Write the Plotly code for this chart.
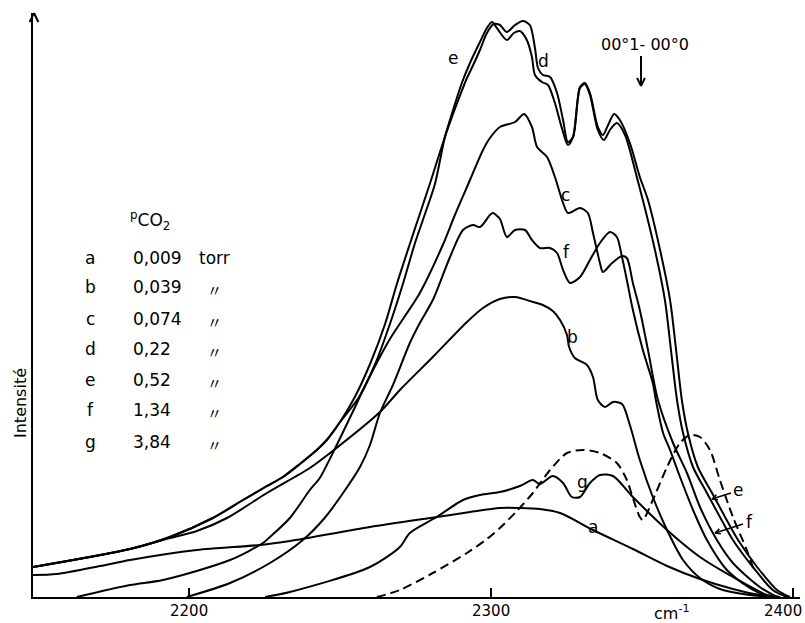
import plotly.graph_objects as go
import math

# ---------------- data (wavenumber cm-1, intensity in arbitrary units) ----------------
base_wn = [2148.4, 2180.5, 2193.7, 2207.9, 2217.9, 2225.8, 2231.1, 2236.7, 2242.3, 2245.6, 2250.0]
base_int = [30, 48, 60, 79, 97, 111, 120, 133, 147, 157, 175]

a_wn = [2148.4, 2156.3, 2170.6, 2180.5, 2202.6, 2223.5, 2233.4, 2259.9, 2282.0, 2293.0, 2302.9,
        2309.5, 2316.1, 2322.8, 2333.7, 2346.9, 2358.2, 2369.1, 2380.0, 2388.9, 2395.6]
a_int = [22, 23, 31, 37, 47, 52, 56, 70, 80, 85, 89, 89, 88, 84, 67, 48, 31, 18, 8, 2, 0]

b_wn = [2148.4, 2180.5, 2193.7, 2202.6, 2212.6, 2225.8, 2240.0, 2246.7, 2263.2, 2269.8, 2280.7,
        2292.0, 2297.3, 2302.9, 2307.9, 2313.8, 2317.1, 2320.4, 2322.8, 2325.1, 2325.8, 2327.7,
        2331.7, 2333.7, 2335.3, 2337.7, 2340.3, 2343.3, 2345.9, 2349.2, 2353.5, 2358.2, 2363.5,
        2369.1, 2375.7, 2385.6, 2393.9]
b_int = [30, 48, 59, 66, 79, 104, 129, 144, 185, 207, 240, 275, 289, 298, 300, 295, 292, 286,
         277, 262, 250, 239, 232, 220, 197, 190, 195, 193, 172, 137, 100, 67, 37, 19, 8, 2, 0]

c_wn = [2162.9, 2180.5, 2191.4, 2213.6, 2224.5, 2226.8, 2233.4, 2240.0, 2243.3, 2247.6, 2255.6,
        2258.9, 2266.5, 2276.4, 2284.0, 2288.0, 2293.0, 2297.3, 2299.6, 2302.9, 2307.9, 2310.9,
        2313.5, 2315.2, 2318.5, 2321.1, 2323.8, 2325.4, 2329.4, 2332.0, 2333.7, 2336.0, 2337.0,
        2340.0, 2343.3, 2344.9, 2346.9, 2349.2, 2351.9, 2355.2, 2360.2, 2364.8, 2369.1, 2374.7,
        2380.0, 2388.9, 2394.6]
c_int = [0, 12, 17, 37, 54, 60, 79, 107, 119, 144, 194, 215, 258, 304, 352, 382, 417, 447, 459,
         470, 475, 483, 470, 450, 440, 420, 394, 384, 389, 384, 364, 334, 325, 334, 341, 339, 314,
         287, 247, 197, 154, 124, 90, 57, 34, 10, 0]

d_wn = base_wn + [2254.9, 2260.2, 2264.9, 2268.8, 2273.1, 2276.4, 2279.7, 2284.7, 2289.0, 2292.0,
                  2293.6, 2296.3, 2298.6, 2300.9, 2302.9, 2305.2, 2307.9, 2310.5, 2312.8, 2314.5,
                  2315.5, 2317.1, 2319.5, 2321.8, 2323.8, 2325.4, 2327.1, 2329.4, 2331.0, 2332.7,
                  2335.3, 2337.0, 2338.7, 2340.7, 2342.6, 2345.9, 2349.2, 2351.9, 2355.9, 2359.2,
                  2361.2, 2363.1, 2365.1, 2368.4, 2373.1, 2377.4, 2381.7, 2388.0, 2394.6, 2398.9]
d_int = base_int + [200, 235, 273, 313, 353, 383, 413, 460, 496, 519, 529, 547, 564, 573, 572,
                    565, 572, 576, 572, 549, 529, 522, 520, 504, 477, 455, 460, 510, 514, 504,
                    470, 462, 472, 483, 477, 454, 420, 397, 347, 297, 247, 197, 164, 130, 104,
                    80, 57, 30, 7, 0]

e_wn = base_wn + [2256.3, 2261.9, 2266.5, 2270.8, 2274.7, 2278.1, 2281.4, 2284.7, 2287.4, 2290.3,
                  2293.0, 2296.3, 2298.6, 2300.3, 2301.9, 2305.2, 2307.5, 2309.5, 2311.8, 2313.5,
                  2314.5, 2316.8, 2318.8, 2321.1, 2323.4, 2325.4, 2327.1, 2329.4, 2331.0, 2332.7,
                  2335.3, 2337.3, 2339.3, 2341.6, 2344.3, 2348.2, 2350.2, 2354.2, 2357.5, 2359.5,
                  2361.5, 2363.5, 2366.8, 2371.4, 2375.7, 2380.0, 2386.6, 2393.2, 2397.9]
e_int = base_int + [200, 235, 273, 313, 353, 383, 413, 460, 487, 514, 534, 555, 569, 575, 569,
                    557, 564, 566, 557, 540, 522, 515, 512, 494, 469, 452, 460, 509, 513, 502,
                    467, 457, 467, 474, 462, 420, 397, 347, 297, 247, 197, 164, 130, 104, 80,
                    57, 30, 7, 0]

f_wn = [2199.3, 2213.6, 2226.8, 2237.7, 2244.9, 2251.0, 2256.6, 2259.9, 2263.2, 2267.5, 2273.1,
        2276.4, 2280.7, 2286.4, 2290.7, 2294.0, 2296.3, 2299.6, 2300.6, 2302.9, 2305.2, 2307.9,
        2311.2, 2313.5, 2316.1, 2319.5, 2321.8, 2323.8, 2326.1, 2329.4, 2332.7, 2336.0, 2339.3,
        2341.6, 2343.3, 2344.9, 2346.9, 2350.2, 2353.5, 2354.5, 2356.9, 2359.2, 2362.5, 2366.8,
        2371.4, 2378.0, 2385.6, 2391.3]
f_int = [0, 14, 34, 57, 79, 104, 130, 152, 184, 212, 254, 274, 297, 340, 367, 372, 370, 382, 384,
         378, 360, 367, 367, 357, 349, 349, 344, 327, 314, 320, 337, 354, 365, 360, 340, 317, 287,
         247, 214, 197, 164, 147, 120, 87, 57, 27, 9, 0]

g_wn = [2225.2, 2233.4, 2259.9, 2269.8, 2273.1, 2282.0, 2290.7, 2296.3, 2302.9, 2309.5, 2313.8,
        2316.1, 2320.4, 2323.8, 2326.7, 2329.4, 2332.7, 2336.0, 2340.3, 2346.9, 2358.2, 2369.1,
        2380.0, 2391.3, 2395.6]
g_int = [0, 5, 30, 50, 64, 80, 97, 102, 105, 111, 117, 113, 121, 114, 100, 100, 114, 122, 121,
         100, 67, 40, 20, 2, 0]

dash_wn = [2262.2, 2269.8, 2280.7, 2292.0, 2298.6, 2302.9, 2308.5, 2313.8, 2319.5, 2325.1, 2330.4,
           2336.0, 2341.6, 2344.9, 2346.9, 2349.2, 2350.2, 2353.5, 2358.2, 2362.5, 2365.8, 2369.1,
           2372.4, 2375.7, 2380.0, 2384.6, 2386.6, 2387.3]
dash_int = [0, 7, 24, 44, 58, 69, 86, 104, 127, 144, 147, 144, 134, 117, 99, 80, 77, 97, 130, 154,
            162, 160, 147, 117, 80, 47, 30, 25]

legend_letters = ["a", "b", "c", "d", "e", "f", "g"]
legend_pressures = ["0,009", "0,039", "0,074", "0,22", "0,52", "1,34", "3,84"]
legend_units = ["torr", "\u3003", "\u3003", "\u3003", "\u3003", "\u3003", "\u3003"]

tick_vals = [2200, 2300, 2400]
tick_text = ["2200", "2300", "2400"]

# ---------------- figure ----------------
W, H = 805, 623
L, R, T, B = 33, 5, 13, 26
PW, PH = W - L - R, H - T - B
XMIN, XMAX = 2148.4, 2402.2
FONT = "DejaVu Sans"


def PX(px):
    return (px - L) / PW


def PY(py):
    return (H - B - py) / PH


fig = go.Figure()
solid = [(a_wn, a_int), (b_wn, b_int), (c_wn, c_int), (d_wn, d_int),
         (e_wn, e_int), (f_wn, f_int), (g_wn, g_int)]
for xs, ys in solid:
    fig.add_trace(go.Scatter(x=xs, y=ys, mode="lines",
                             line=dict(color="black", width=2, shape="spline", smoothing=0.8),
                             hoverinfo="skip"))
fig.add_trace(go.Scatter(x=dash_wn, y=dash_int, mode="lines",
                         line=dict(color="black", width=2, dash="9px,5px", shape="spline",
                                   smoothing=0.8),
                         hoverinfo="skip"))

ann = []


def text(t, px, py, size=17, xanchor="center", angle=0, family=FONT):
    ann.append(dict(text=t, x=PX(px), y=PY(py), xref="paper", yref="paper", showarrow=False,
                    xanchor=xanchor, yanchor="middle", textangle=angle,
                    font=dict(family=family, size=size, color="black")))


# curve labels
for t, px, py in [("e", 453, 58), ("d", 543, 61), ("c", 565, 195), ("f", 566, 252),
                  ("b", 572, 337), ("g", 582, 482), ("a", 593, 527),
                  ("e", 738, 490), ("f", 749, 522)]:
    text(t, px, py)

# legend block
text("<sup>p</sup>CO<sub>2</sub>", 150, 220, size=17)
rows_y = [258, 287, 319, 349, 380, 410, 442]
for letter, p, u, ry in zip(legend_letters, legend_pressures, legend_units, rows_y):
    text(letter, 90, ry)
    text(p, 131, ry, xanchor="left")
    if u == "torr":
        text(u, 197, ry, xanchor="left")
    else:
        text(u, 214, ry + 2, size=15, family="Noto Sans CJK JP")

# axis texts
for v, t in zip(tick_vals, tick_text):
    px = L + (v - XMIN) / (XMAX - XMIN) * PW
    if v == 2400:
        px -= 10
    text(t, px, 611, size=15)
text("cm<sup>-1</sup>", 672, 612, size=16)
text("Intensité", 20, 403, size=16, angle=-90)
text("00°1- 00°0", 645, 44, size=16)

shapes = []


def seg(x0, y0, x1, y1, w=2):
    shapes.append(dict(type="line", xref="paper", yref="paper",
                       x0=PX(x0), y0=PY(y0), x1=PX(x1), y1=PY(y1),
                       line=dict(color="black", width=w)))


def arrow(x0, y0, x1, y1, head=7, w=2, draw_shaft=True):
    if draw_shaft:
        seg(x0, y0, x1, y1, w)
    ang = math.atan2(y0 - y1, x0 - x1)
    for da in (0.45, -0.45):
        seg(x1, y1, x1 + head * math.cos(ang + da), y1 + head * math.sin(ang + da), w)


arrow(34, 60, 34, 13, head=10, draw_shaft=False)   # y-axis arrow head
arrow(641, 56, 641, 86, head=9)                    # transition arrow
arrow(731, 493, 712, 499, head=6, w=1.5)           # e pointer
arrow(743, 524, 715, 533, head=6, w=1.5)           # f pointer

fig.update_layout(
    width=W, height=H, margin=dict(l=L, r=R, t=T, b=B),
    paper_bgcolor="white", plot_bgcolor="white", showlegend=False,
    annotations=ann, shapes=shapes,
    xaxis=dict(range=[XMIN, XMAX], showgrid=False, zeroline=False, showline=True,
               linecolor="black", linewidth=2, ticks="inside", tickvals=tick_vals,
               ticklen=9, tickwidth=2, tickcolor="black", showticklabels=False),
    yaxis=dict(range=[0, PH], showgrid=False, zeroline=False, showline=True,
               linecolor="black", linewidth=2, showticklabels=False, ticks=""),
)

fig.write_html("out.html")
